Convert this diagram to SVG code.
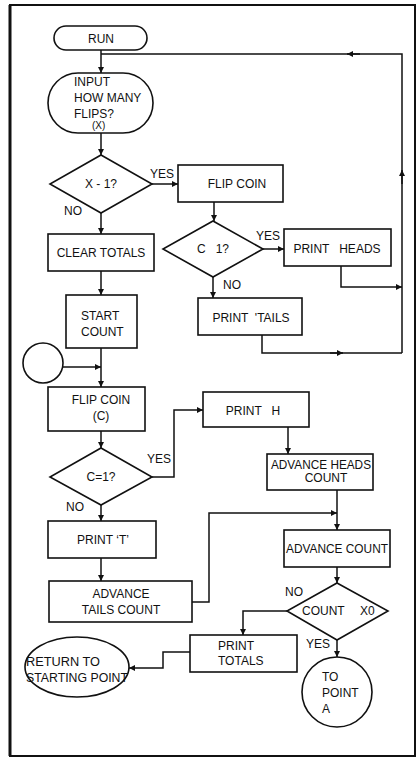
<svg xmlns="http://www.w3.org/2000/svg" width="419" height="760" viewBox="0 0 419 760">
<style>
.s{fill:#fff;stroke:#111;stroke-width:1.6}
.c{fill:none;stroke:#111;stroke-width:1.5}
text{font-family:"Liberation Sans",Arial,sans-serif;font-size:12px;fill:#111;white-space:pre}
.m{text-anchor:middle}
</style>
<defs>
<marker id="a" viewBox="0 0 10 10" refX="10" refY="5" markerWidth="10" markerHeight="6" markerUnits="userSpaceOnUse" orient="auto">
<path d="M0,0 L10,5 L0,10 z" fill="#111"/>
</marker>
</defs>
<rect x="0" y="0" width="419" height="760" fill="#fff"/>
<rect x="10" y="5" width="405" height="751" fill="none" stroke="#111" stroke-width="2"/>
<line x1="10" y1="5" x2="10" y2="756" stroke="#111" stroke-width="3"/>

<g id="connectors">
<path class="c" d="M101,50 V73" marker-end="url(#a)"/>
<path class="c" d="M402,353 V54 H101"/>
<path class="c" d="M402,184 V170" marker-end="url(#a)"/>
<path class="c" d="M360,54 H347" marker-end="url(#a)"/>
<path class="c" d="M101,133 V155" marker-end="url(#a)"/>
<path class="c" d="M152,184 H178" marker-end="url(#a)"/>
<path class="c" d="M101,213 V234" marker-end="url(#a)"/>
<path class="c" d="M101,271 V295" marker-end="url(#a)"/>
<path class="c" d="M101,348 V387" marker-end="url(#a)"/>
<path class="c" d="M63,367 H101" marker-end="url(#a)"/>
<path class="c" d="M214,202 V221" marker-end="url(#a)"/>
<path class="c" d="M263,249 H284" marker-end="url(#a)"/>
<path class="c" d="M213,277 V298" marker-end="url(#a)"/>
<path class="c" d="M341,266 V287 H402" marker-end="url(#a)"/>
<path class="c" d="M262,335 V353 H402"/>
<path class="c" d="M330,353 H343" marker-end="url(#a)"/>
<path class="c" d="M101,431 V448" marker-end="url(#a)"/>
<path class="c" d="M152,477 H174 V410 H203" marker-end="url(#a)"/>
<path class="c" d="M101,505 V521" marker-end="url(#a)"/>
<path class="c" d="M101,558 V581" marker-end="url(#a)"/>
<path class="c" d="M192,602 H209 V513 H337" marker-end="url(#a)"/>
<path class="c" d="M288,427 V454" marker-end="url(#a)"/>
<path class="c" d="M337,490 V530" marker-end="url(#a)"/>
<path class="c" d="M337,567 V583" marker-end="url(#a)"/>
<path class="c" d="M287,611 H243 V635" marker-end="url(#a)"/>
<path class="c" d="M337,640 V657" marker-end="url(#a)"/>
<path class="c" d="M190,652 H163 V668 H129" marker-end="url(#a)"/>
<text x="150" y="178">YES</text>
<text x="64" y="215">NO</text>
<text x="256" y="240">YES</text>
<text x="223" y="289">NO</text>
<text x="147" y="463">YES</text>
<text x="66" y="511">NO</text>
<text x="285" y="596">NO</text>
<text x="306" y="648">YES</text>
</g>

<g id="run"><rect class="s" x="54" y="26" width="93" height="24" rx="12"/><text class="m" x="101" y="43">RUN</text></g>
<g id="input"><rect class="s" x="48" y="73" width="105" height="60" rx="30"/>
<text x="74" y="86">INPUT</text><text x="74" y="102">HOW MANY</text><text x="74" y="118">FLIPS?</text><text x="92" y="129" style="font-size:10px">(X)</text></g>
<g id="dec-x"><polygon class="s" points="101,155 152,184 101,213 50,184"/><text class="m" x="101" y="188">X - 1?</text></g>
<g id="flip1"><rect class="s" x="178" y="165" width="105" height="37"/><text class="m" x="237" y="188">FLIP COIN</text></g>
<g id="dec-c1"><polygon class="s" points="213,221 263,249 213,277 163,249"/><text class="m" x="213" y="253">C   1?</text></g>
<g id="heads"><rect class="s" x="284" y="229" width="107" height="37"/><text class="m" x="337" y="253">PRINT   HEADS</text></g>
<g id="tails"><rect class="s" x="198" y="298" width="104" height="37"/><text class="m" x="251" y="322">PRINT  'TAILS</text></g>
<g id="clear"><rect class="s" x="48" y="234" width="106" height="37"/><text class="m" x="101" y="257">CLEAR TOTALS</text></g>
<g id="start"><rect class="s" x="66" y="295" width="71" height="53"/><text x="81" y="320">START</text><text x="81" y="336">COUNT</text></g>
<g id="pointa-in"><circle class="s" cx="43" cy="363" r="20"/></g>
<g id="flip2"><rect class="s" x="48" y="387" width="97" height="44"/><text class="m" x="101" y="404">FLIP COIN</text><text class="m" x="101" y="420">(C)</text></g>
<g id="dec-c2"><polygon class="s" points="101,448 152,477 101,505 50,477"/><text class="m" x="101" y="481">C=1?</text></g>
<g id="printt"><rect class="s" x="48" y="521" width="108" height="37"/><text class="m" x="103" y="544">PRINT ‘T’</text></g>
<g id="advtails"><rect class="s" x="49" y="581" width="143" height="41"/><text class="m" x="121" y="598">ADVANCE</text><text class="m" x="121" y="614">TAILS COUNT</text></g>
<g id="printh"><rect class="s" x="203" y="392" width="106" height="35"/><text class="m" x="253" y="415">PRINT   H</text></g>
<g id="advheads"><rect class="s" x="267" y="454" width="106" height="36"/><text class="m" x="321" y="469" textLength="100" lengthAdjust="spacingAndGlyphs">ADVANCE HEADS</text><text class="m" x="326" y="482">COUNT</text></g>
<g id="advcount"><rect class="s" x="284" y="530" width="106" height="37"/><text class="m" x="337" y="553" textLength="102" lengthAdjust="spacingAndGlyphs">ADVANCE COUNT</text></g>
<g id="dec-count"><polygon class="s" points="337,583 388,611 337,640 287,611"/><text x="302" y="615">COUNT</text><text x="360" y="615">X0</text></g>
<g id="totals"><rect class="s" x="190" y="635" width="107" height="37"/><text x="218" y="650">PRINT</text><text x="218" y="665">TOTALS</text></g>
<g id="return"><ellipse class="s" cx="77" cy="667" rx="52" ry="30"/><text x="26" y="666" textLength="74" lengthAdjust="spacingAndGlyphs">RETURN TO</text><text x="26" y="682" textLength="102" lengthAdjust="spacingAndGlyphs">STARTING POINT</text></g>
<g id="topointa"><circle class="s" cx="337" cy="692" r="35"/><text x="322" y="681">TO</text><text x="322" y="697">POINT</text><text x="322" y="713">A</text></g>
</svg>
